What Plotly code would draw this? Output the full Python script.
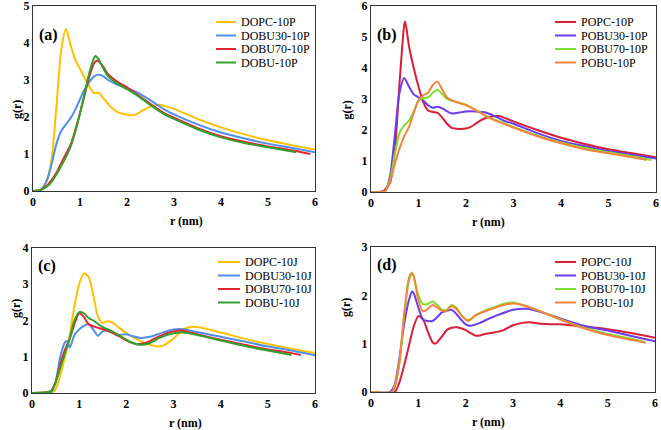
import plotly.graph_objects as go

# ---------------- data ----------------
# Panel (a)
A_DOPC_X = [0, 0.2, 0.3, 0.4, 0.5, 0.6, 0.7, 0.8, 0.9, 1.0, 1.1, 1.2, 1.3, 1.4, 1.5, 1.6, 1.7, 1.8, 1.9, 2.0, 2.1, 2.2, 2.3, 2.4, 2.5, 2.6, 2.7, 2.8, 3.0, 3.5, 4.0, 4.5, 5.0, 5.5, 6.0]
A_DOPC_Y = [0, 0.05, 0.3, 0.9, 2.3, 3.8, 4.38, 3.95, 3.55, 3.3, 3.05, 2.82, 2.65, 2.65, 2.5, 2.35, 2.22, 2.13, 2.09, 2.07, 2.05, 2.07, 2.15, 2.22, 2.28, 2.32, 2.33, 2.3, 2.22, 1.95, 1.72, 1.53, 1.37, 1.24, 1.12]
A_B30_X = [0, 0.15, 0.3, 0.4, 0.5, 0.6, 0.7, 0.8, 0.9, 1.0, 1.1, 1.2, 1.3, 1.4, 1.5, 1.6, 1.7, 1.8, 2.0, 2.2, 2.5, 2.8, 3.0, 3.5, 4.0, 4.5, 5.0, 5.5, 6.0]
A_B30_Y = [0, 0.02, 0.3, 0.75, 1.28, 1.62, 1.8, 1.97, 2.2, 2.48, 2.75, 2.95, 3.1, 3.14, 3.1, 3.0, 2.93, 2.87, 2.78, 2.68, 2.45, 2.2, 2.07, 1.8, 1.58, 1.42, 1.28, 1.17, 1.05]
A_B70_X = [0, 0.15, 0.3, 0.4, 0.5, 0.6, 0.7, 0.8, 0.9, 1.0, 1.1, 1.2, 1.3, 1.35, 1.4, 1.5, 1.6, 1.8, 2.0, 2.2, 2.5, 2.8, 3.0, 3.5, 4.0, 4.5, 5.0, 5.5, 5.9]
A_B70_Y = [0, 0.02, 0.15, 0.3, 0.5, 0.75, 1.0, 1.25, 1.65, 2.1, 2.6, 3.1, 3.45, 3.52, 3.5, 3.35, 3.15, 2.95, 2.8, 2.62, 2.35, 2.1, 1.98, 1.7, 1.48, 1.33, 1.2, 1.1, 1.0]
A_B100_X = [0, 0.15, 0.3, 0.4, 0.5, 0.6, 0.7, 0.8, 0.9, 1.0, 1.1, 1.2, 1.3, 1.33, 1.4, 1.5, 1.6, 1.8, 2.0, 2.2, 2.5, 2.8, 3.0, 3.5, 4.0, 4.5, 5.0, 5.6]
A_B100_Y = [0, 0.02, 0.12, 0.25, 0.45, 0.68, 0.92, 1.2, 1.6, 2.1, 2.65, 3.2, 3.6, 3.65, 3.55, 3.3, 3.1, 2.9, 2.75, 2.6, 2.32, 2.07, 1.95, 1.67, 1.45, 1.3, 1.18, 1.05]

# Panel (b)
B_POPC_X = [0, 0.25, 0.4, 0.5, 0.6, 0.7, 0.72, 0.8, 0.9, 1.0, 1.1, 1.2, 1.3, 1.4, 1.5, 1.6, 1.7, 1.8, 2.0, 2.1, 2.2, 2.3, 2.4, 2.5, 2.7, 2.8, 3.0, 3.5, 4.0, 4.5, 5.0, 5.5, 6.0]
B_POPC_Y = [0, 0.02, 0.3, 1.3, 3.5, 5.4, 5.5, 4.7, 4.0, 3.4, 2.9, 2.63, 2.58, 2.55, 2.4, 2.2, 2.07, 2.04, 2.05, 2.1, 2.2, 2.3, 2.38, 2.43, 2.45, 2.4, 2.28, 2.0, 1.75, 1.55, 1.38, 1.25, 1.12]
B_B30_X = [0, 0.3, 0.4, 0.5, 0.6, 0.7, 0.8, 0.9, 1.0, 1.1, 1.2, 1.3, 1.4, 1.5, 1.6, 1.7, 1.8, 2.0, 2.2, 2.4, 2.6, 2.8, 3.0, 3.5, 4.0, 4.5, 5.0, 5.5, 6.0]
B_B30_Y = [0, 0.05, 0.5, 1.8, 3.2, 3.68, 3.4, 3.15, 3.05, 2.95, 2.8, 2.72, 2.75, 2.7, 2.6, 2.53, 2.55, 2.6, 2.6, 2.57, 2.45, 2.3, 2.2, 1.9, 1.65, 1.48, 1.32, 1.2, 1.08]
B_B70_X = [0, 0.3, 0.4, 0.5, 0.6, 0.7, 0.8, 0.9, 1.0, 1.1, 1.2, 1.3, 1.4, 1.5, 1.6, 1.8, 2.0, 2.2, 2.5, 3.0, 3.5, 4.0, 4.5, 5.0, 5.5, 5.9]
B_B70_Y = [0, 0.03, 0.4, 1.2, 1.9, 2.15, 2.3, 2.6, 2.95, 3.02, 3.05, 3.2, 3.3, 3.15, 3.0, 2.9, 2.82, 2.65, 2.4, 2.1, 1.82, 1.6, 1.42, 1.28, 1.15, 1.03]
B_B100_X = [0, 0.3, 0.4, 0.5, 0.6, 0.7, 0.8, 0.9, 1.0, 1.1, 1.2, 1.3, 1.4, 1.5, 1.6, 1.8, 2.0, 2.2, 2.5, 3.0, 3.5, 4.0, 4.5, 5.0, 5.5, 5.8]
B_B100_Y = [0, 0.03, 0.35, 0.9, 1.4, 1.8, 2.1, 2.55, 2.95, 3.12, 3.2, 3.45, 3.56, 3.3, 3.05, 2.9, 2.8, 2.65, 2.38, 2.08, 1.8, 1.57, 1.38, 1.25, 1.12, 1.03]

# Panel (c)
C_DOPC_X = [0, 0.4, 0.5, 0.6, 0.7, 0.8, 0.9, 1.0, 1.1, 1.2, 1.3, 1.4, 1.5, 1.6, 1.7, 1.8, 2.0, 2.2, 2.4, 2.6, 2.7, 2.8, 3.0, 3.2, 3.4, 3.6, 4.0, 4.5, 5.0, 5.5, 6.0]
C_DOPC_Y = [0, 0.0, 0.1, 0.5, 1.0, 1.6, 2.4, 3.0, 3.3, 3.2, 2.7, 2.1, 1.93, 1.98, 1.95, 1.85, 1.65, 1.5, 1.37, 1.3, 1.28, 1.32, 1.5, 1.75, 1.83, 1.8, 1.67, 1.5, 1.35, 1.22, 1.1]
C_B30_X = [0, 0.4, 0.5, 0.6, 0.7, 0.75, 0.8, 0.9, 1.0, 1.1, 1.2, 1.3, 1.4, 1.5, 1.6, 1.8, 2.0, 2.1, 2.3, 2.5, 2.8, 3.0, 3.2, 3.5, 4.0, 4.5, 5.0, 5.5, 6.0]
C_B30_Y = [0, 0.02, 0.3, 1.0, 1.4, 1.42, 1.25, 1.6, 1.75, 1.85, 1.9, 1.75, 1.58, 1.7, 1.72, 1.6, 1.62, 1.58, 1.52, 1.55, 1.68, 1.75, 1.76, 1.68, 1.55, 1.42, 1.28, 1.17, 1.04]
C_B70_X = [0, 0.4, 0.5, 0.6, 0.7, 0.8, 0.9, 1.0, 1.1, 1.2, 1.4, 1.6, 1.8, 2.0, 2.2, 2.4, 2.6, 2.8, 3.0, 3.2, 3.5, 4.0, 4.5, 5.0, 5.5, 5.7]
C_B70_Y = [0, 0.05, 0.3, 0.8, 1.2, 1.5, 1.9, 2.2, 2.1, 1.9, 1.8, 1.72, 1.6, 1.45, 1.35, 1.38, 1.5, 1.62, 1.7, 1.72, 1.62, 1.47, 1.33, 1.2, 1.1, 1.05]
C_B100_X = [0, 0.4, 0.5, 0.6, 0.7, 0.8, 0.9, 1.0, 1.1, 1.2, 1.3, 1.5, 1.7, 1.9, 2.1, 2.3, 2.5, 2.7, 3.0, 3.2, 3.5, 4.0, 4.5, 5.0, 5.5]
C_B100_Y = [0, 0.05, 0.3, 0.7, 1.1, 1.5, 2.0, 2.23, 2.2, 2.07, 2.0, 1.82, 1.7, 1.55, 1.4, 1.33, 1.38, 1.52, 1.65, 1.67, 1.6, 1.45, 1.3, 1.17, 1.05]

# Panel (d)
D_POPC_X = [0, 0.5, 0.6, 0.7, 0.8, 0.9, 1.0, 1.1, 1.2, 1.3, 1.35, 1.4, 1.5, 1.6, 1.7, 1.8, 1.9, 2.0, 2.1, 2.2, 2.3, 2.4, 2.6, 2.8, 3.0, 3.2, 3.4, 3.6, 3.8, 4.0, 4.5, 5.0, 5.5, 6.0]
D_POPC_Y = [0, 0.0, 0.2, 0.55, 0.95, 1.35, 1.57, 1.5, 1.25, 1.03, 1.0, 1.03, 1.15, 1.28, 1.33, 1.34, 1.32, 1.28, 1.22, 1.17, 1.17, 1.2, 1.23, 1.28, 1.38, 1.43, 1.44, 1.41, 1.4, 1.4, 1.35, 1.3, 1.22, 1.12]
D_B30_X = [0, 0.4, 0.5, 0.6, 0.7, 0.8, 0.87, 0.9, 1.0, 1.1, 1.2, 1.3, 1.4, 1.5, 1.6, 1.7, 1.8, 1.9, 2.0, 2.1, 2.3, 2.5, 2.7, 3.0, 3.3, 3.6, 4.0, 4.5, 5.0, 5.5, 6.0]
D_B30_Y = [0, 0.0, 0.15, 0.7, 1.4, 1.9, 2.08, 2.05, 1.75, 1.5, 1.47, 1.47, 1.55, 1.65, 1.68, 1.7, 1.62, 1.5, 1.4, 1.37, 1.43, 1.52, 1.6, 1.7, 1.72, 1.65, 1.52, 1.37, 1.27, 1.16, 1.05]
D_B70_X = [0, 0.45, 0.5, 0.6, 0.7, 0.8, 0.87, 0.9, 1.0, 1.1, 1.2, 1.3, 1.4, 1.5, 1.6, 1.7, 1.8, 1.9, 2.0, 2.1, 2.2, 2.4, 2.6, 2.8, 3.0, 3.2, 3.5, 4.0, 4.5, 5.0, 5.5, 5.8]
D_B70_Y = [0, 0.0, 0.1, 0.6, 1.6, 2.3, 2.47, 2.4, 2.0, 1.82, 1.82, 1.88, 1.8, 1.7, 1.7, 1.8, 1.75, 1.6, 1.5, 1.5, 1.58, 1.68, 1.75, 1.82, 1.85, 1.8, 1.7, 1.5, 1.33, 1.2, 1.1, 1.03]
D_B100_X = [0, 0.45, 0.5, 0.6, 0.7, 0.8, 0.85, 0.9, 1.0, 1.1, 1.2, 1.3, 1.4, 1.5, 1.6, 1.7, 1.8, 1.9, 2.05, 2.2, 2.3, 2.5, 2.8, 3.0, 3.2, 3.5, 4.0, 4.5, 5.0, 5.5, 5.8]
D_B100_Y = [0, 0.0, 0.1, 0.6, 1.6, 2.35, 2.45, 2.4, 1.9, 1.67, 1.72, 1.8, 1.75, 1.68, 1.68, 1.78, 1.72, 1.6, 1.47, 1.58, 1.63, 1.7, 1.8, 1.83, 1.8, 1.7, 1.5, 1.32, 1.18, 1.08, 1.02]

NAMES_A = ["DOPC-10P", "DOBU30-10P", "DOBU70-10P", "DOBU-10P"]
NAMES_B = ["POPC-10P", "POBU30-10P", "POBU70-10P", "POBU-10P"]
NAMES_C = ["DOPC-10J", "DOBU30-10J", "DOBU70-10J", "DOBU-10J"]
NAMES_D = ["POPC-10J", "POBU30-10J", "POBU70-10J", "POBU-10J"]
COLORS_DO = ["#FFC000", "#4F8FE8", "#E8222E", "#33A02C"]
COLORS_PO = ["#D81E3A", "#6A3CF0", "#7CE02A", "#F4843C"]
Y_MAX = [5, 6, 4, 3]
X_TICKS = [0, 1, 2, 3, 4, 5, 6]
PANEL_LABELS = ["(a)", "(b)", "(c)", "(d)"]

panels = [
    (NAMES_A, COLORS_DO, [(A_DOPC_X, A_DOPC_Y), (A_B30_X, A_B30_Y), (A_B70_X, A_B70_Y), (A_B100_X, A_B100_Y)]),
    (NAMES_B, COLORS_PO, [(B_POPC_X, B_POPC_Y), (B_B30_X, B_B30_Y), (B_B70_X, B_B70_Y), (B_B100_X, B_B100_Y)]),
    (NAMES_C, COLORS_DO, [(C_DOPC_X, C_DOPC_Y), (C_B30_X, C_B30_Y), (C_B70_X, C_B70_Y), (C_B100_X, C_B100_Y)]),
    (NAMES_D, COLORS_PO, [(D_POPC_X, D_POPC_Y), (D_B30_X, D_B30_Y), (D_B70_X, D_B70_Y), (D_B100_X, D_B100_Y)]),
]

# ---------------- layout geometry (pixels) ----------------
W, H = 661, 430


def fx(px):
    return px / W


def fy(py):
    return 1 - py / H


boxes = [(33, 315, 6, 191), (371, 656, 6, 192), (32, 315, 248, 393), (371, 655, 247, 392)]
# legend: swatch start, swatch end, text start, first row y, row step
legend_geo = [(216, 236, 239, 22, 13.5), (555, 576, 579, 22, 13.5),
              (218, 240, 243, 262, 13.5), (555, 576, 579, 262, 13.5)]

SERIF = "Liberation Serif, Times New Roman, serif"

fig = go.Figure()
layout = dict(
    width=W, height=H, margin=dict(l=0, r=0, t=0, b=0, autoexpand=False),
    paper_bgcolor="white", plot_bgcolor="white", showlegend=False,
    font=dict(family=SERIF, color="black"),
)
annotations = []
shapes = []
for i, (names, colors, series) in enumerate(panels):
    k = "" if i == 0 else str(i + 1)
    xa, ya = "x" + k, "y" + k
    for name, color, (xs, ys) in zip(names, colors, series):
        fig.add_trace(go.Scatter(
            x=xs, y=ys, name=name, mode="lines", xaxis=xa, yaxis=ya,
            line=dict(color=color, width=2, shape="spline", smoothing=0.7),
        ))
    l, r, t, b = boxes[i]
    axis_common = dict(showgrid=False, zeroline=False, showline=True, linecolor="#333333",
                       linewidth=1, mirror=True, ticks="", ticklabeloverflow="allow",
                       automargin=False,
                       tickfont=dict(family=SERIF, size=12, weight="bold", color="black"))
    layout["xaxis" + k] = dict(domain=[fx(l), fx(r)], range=[0, 6], tickvals=X_TICKS,
                               anchor=ya, **axis_common)
    layout["yaxis" + k] = dict(domain=[fy(b), fy(t)], range=[0, Y_MAX[i]],
                               dtick=1, anchor=xa, **axis_common)
    # legend (drawn as swatches + labels)
    s0, s1, tx, y0, step = legend_geo[i]
    for j, (name, color) in enumerate(zip(names, colors)):
        yy = fy(y0 + j * step)
        shapes.append(dict(type="line", xref="paper", yref="paper", x0=fx(s0), x1=fx(s1),
                           y0=yy, y1=yy, line=dict(color=color, width=2)))
        annotations.append(dict(text=name, x=fx(tx), y=yy, xref="paper", yref="paper",
                                xanchor="left", yanchor="middle", showarrow=False,
                                font=dict(family=SERIF, size=12, color="black")))
    # axis titles and panel label
    annotations.append(dict(text="<b>r (nm)</b>", x=fx((l + r) / 2 - 6), y=fy(b + 30), xref="paper", yref="paper",
                            yanchor="middle", showarrow=False, font=dict(family=SERIF, size=12)))
    annotations.append(dict(text="<b>g(r)</b>", x=fx(l - 25), y=fy((t + b) / 2), xref="paper", yref="paper",
                            showarrow=False, textangle=-90, font=dict(family=SERIF, size=12)))
    annotations.append(dict(text="<b>" + PANEL_LABELS[i] + "</b>", x=fx(l + 4), y=fy(t + 18),
                            xref="paper", yref="paper", xanchor="left", showarrow=False,
                            font=dict(family=SERIF, size=16)))
layout["annotations"] = annotations
layout["shapes"] = shapes
fig.update_layout(**layout)
# remove the browser's default page margin so the figure fills the window exactly
fig.write_html("out.html", config={"displayModeBar": False},
               post_script="document.body.style.margin='0';document.body.style.overflow='hidden';")
